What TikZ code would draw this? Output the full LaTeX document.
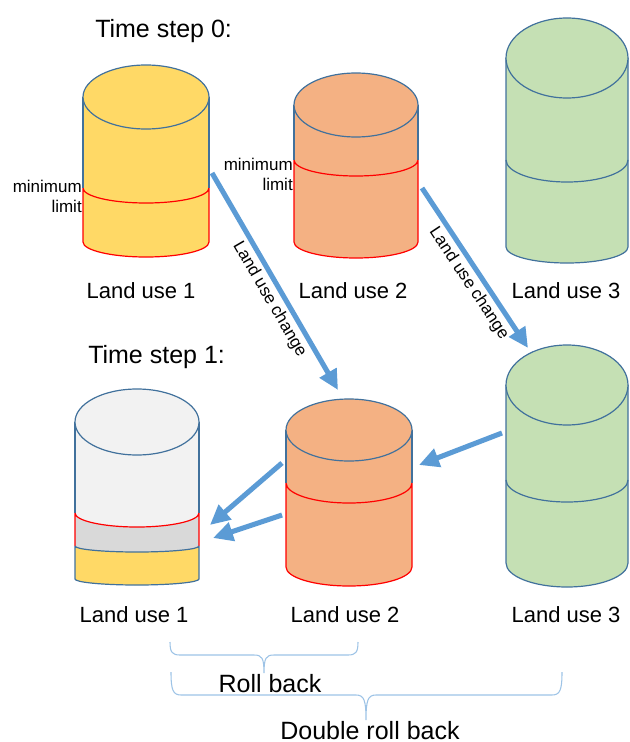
\documentclass[tikz,border=0pt]{standalone}
\usepackage{fontspec}
\setmainfont{Liberation Sans}
\usetikzlibrary{arrows.meta}
\definecolor{colYellow}{RGB}{255,217,102}
\definecolor{colOrange}{RGB}{244,177,131}
\definecolor{colGreen}{RGB}{197,224,180}
\definecolor{colLight}{RGB}{242,242,242}
\definecolor{colGrey}{RGB}{217,217,217}
\definecolor{colRim}{RGB}{65,113,156}
\definecolor{colLimit}{RGB}{255,0,0}
\definecolor{colFlow}{RGB}{91,155,213}
\definecolor{colBrace}{RGB}{157,195,230}

\begin{document}
\begin{tikzpicture}[x=0.75pt, y=-0.75pt,
    rimline/.style={draw=colRim, line width=0.9pt},
    limline/.style={draw=colLimit, line width=0.9pt},
    flow/.style={colFlow, line width=3.8pt, -{Triangle[length=15pt,width=14pt]}},
    change/.style={sloped, below, inner sep=2.5pt, text=black, font=\fontsize{12.75}{15}\selectfont},
    lutxt/.style={anchor=base, inner sep=0pt, font=\fontsize{16.5}{20}\selectfont},
    headtxt/.style={inner sep=0pt, font=\fontsize{18.75}{22}\selectfont},
    limtxt/.style={align=right, anchor=east, inner sep=0pt, font=\fontsize{12.75}{15}\selectfont},
    bracepath/.style={draw=colBrace, line width=0.8pt}]
    \useasboundingbox (0,0) rectangle (629,742);

    % time step 0
    \node[headtxt, anchor=base west] (ts0) at (95,38) {Time step 0:};

    % land use 1
    \fill[colYellow] (83,97) -- (83,242) arc[start angle=180, end angle=0, x radius=63, y radius=15] -- (209,97) -- cycle;
    \draw[rimline] (83,97) -- (83,188) (209,97) -- (209,188);
    \draw[limline] (83,188) arc[start angle=180, end angle=0, x radius=63, y radius=15]
        (83,188) -- (83,242) arc[start angle=180, end angle=0, x radius=63, y radius=15] -- (209,188);
    \filldraw[fill=colYellow, rimline] (146,97) ellipse[x radius=63, y radius=32];
    \node[limtxt] (min1) at (82,196) {minimum\\limit};

    % land use 2
    \fill[colOrange] (294,105) -- (294,242) arc[start angle=180, end angle=0, x radius=62, y radius=16] -- (418,105) -- cycle;
    \draw[rimline] (294,105) -- (294,160) (418,105) -- (418,160);
    \draw[limline] (294,160) arc[start angle=180, end angle=0, x radius=62, y radius=16]
        (294,160) -- (294,242) arc[start angle=180, end angle=0, x radius=62, y radius=16] -- (418,160);
    \filldraw[fill=colOrange, rimline] (356,105) ellipse[x radius=62, y radius=32];
    \node[limtxt] (min2) at (293,174) {minimum\\limit};

    % land use 3
    \filldraw[fill=colGreen, rimline] (506,58) -- (506,247) arc[start angle=180, end angle=0, x radius=61, y radius=16] -- (628,58);
    \draw[rimline] (506,160) arc[start angle=180, end angle=0, x radius=61, y radius=22];
    \filldraw[fill=colGreen, rimline] (567,58) ellipse[x radius=61, y radius=40];

    \node[lutxt] (lu1a) at (141,298) {Land use 1};
    \node[lutxt] (lu2a) at (353,298) {Land use 2};
    \node[lutxt] (lu3a) at (566,298) {Land use 3};

    % time step 1
    \node[headtxt, anchor=base west] (ts1) at (88,363) {Time step 1:};

    % land use 1: free, rolled back, kept
    \fill[colLight] (75,422) -- (75,513) arc[start angle=180, end angle=0, x radius=62, y radius=14] -- (199,422) -- cycle;
    \fill[colGrey] (75,513) arc[start angle=180, end angle=0, x radius=62, y radius=14] -- (199,546)
        arc[start angle=0, end angle=180, x radius=62, y radius=6] -- cycle;
    \fill[colYellow] (75,546) arc[start angle=180, end angle=0, x radius=62, y radius=6] -- (199,579)
        arc[start angle=0, end angle=180, x radius=62, y radius=6] -- cycle;
    \draw[rimline] (75,422) -- (75,513) (199,422) -- (199,513);
    \draw[limline] (75,513) arc[start angle=180, end angle=0, x radius=62, y radius=14]
        (75,513) -- (75,546) (199,513) -- (199,546);
    \draw[rimline] (75,546) arc[start angle=180, end angle=0, x radius=62, y radius=6]
        (75,546) -- (75,579) arc[start angle=180, end angle=0, x radius=62, y radius=6] -- (199,546);
    \filldraw[fill=colLight, rimline] (137,422) ellipse[x radius=62, y radius=33];

    % land use 2
    \fill[colOrange] (286,430) -- (286,567) arc[start angle=180, end angle=0, x radius=63, y radius=19] -- (412,430) -- cycle;
    \draw[rimline] (286,430) -- (286,483) (412,430) -- (412,483);
    \draw[limline] (286,483) arc[start angle=180, end angle=0, x radius=63, y radius=20]
        (286,483) -- (286,567) arc[start angle=180, end angle=0, x radius=63, y radius=19] -- (412,483);
    \filldraw[fill=colOrange, rimline] (349,430) ellipse[x radius=63, y radius=31];

    % land use 3
    \filldraw[fill=colGreen, rimline] (506,385) -- (506,563) arc[start angle=180, end angle=0, x radius=61, y radius=24] -- (628,385);
    \draw[rimline] (506,480) arc[start angle=180, end angle=0, x radius=61, y radius=22];
    \filldraw[fill=colGreen, rimline] (567,385) ellipse[x radius=61, y radius=40];

    \node[lutxt] (lu1b) at (134,622) {Land use 1};
    \node[lutxt] (lu2b) at (345,622) {Land use 2};
    \node[lutxt] (lu3b) at (566,622) {Land use 3};

    % land use changes
    \coordinate (f1a) at (212,173);
    \coordinate (f1b) at (338,390);
    \coordinate (f2a) at (422,188);
    \coordinate (f2b) at (528,348);
    \coordinate (f3a) at (502,433);
    \coordinate (f3b) at (419,465);
    \coordinate (f4a) at (282,463);
    \coordinate (f4b) at (210,525);
    \coordinate (f5a) at (282,515);
    \coordinate (f5b) at (213,538);
    \draw[flow] (f1a) -- (f1b) node[change, pos=0.55] (chg1) {Land use change};
    \draw[flow] (f2a) -- (f2b) node[change, pos=0.55] (chg2) {Land use change};
    \draw[flow] (f3a) -- (f3b);
    \draw[flow] (f4a) -- (f4b);
    \draw[flow] (f5a) -- (f5b);

    % roll back braces
    \draw[bracepath] (170,642) .. controls (170,652) and (172,655) .. (180,655) -- (254,655)
        .. controls (262,655) and (264,658) .. (264,673) .. controls (264,658) and (266,655) .. (274,655)
        -- (348,655) .. controls (356,655) and (358,652) .. (358,642);
    \draw[bracepath] (171,672) .. controls (171,690) and (173,695) .. (181,695) -- (356,695)
        .. controls (364,695) and (366,700) .. (366,720) .. controls (366,700) and (368,695) .. (376,695)
        -- (552,695) .. controls (560,695) and (562,690) .. (562,672);
    \node[headtxt, anchor=base] (roll1) at (270,692) {Roll back};
    \node[headtxt, anchor=base] (roll2) at (370,739) {Double roll back};
\end{tikzpicture}
\end{document}
